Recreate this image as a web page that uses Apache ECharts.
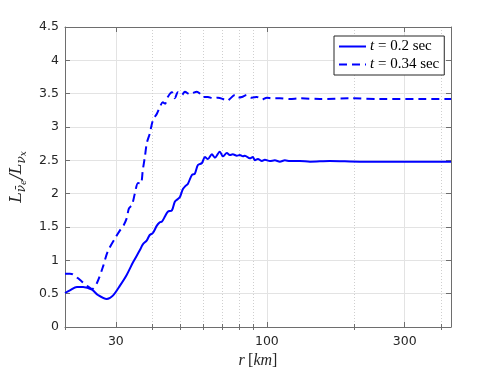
<!DOCTYPE html>
<html>
<head>
<meta charset="utf-8">
<script src="https://cdn.jsdelivr.net/npm/echarts@6/dist/echarts.min.js"></script>
<style>html,body{margin:0;padding:0;background:#fff}#c{width:498px;height:374px}</style>
</head>
<body>
<div id="c"></div>
<script>
// ---- data (r in km, ratio L_anti-nu_e / L_nu_x) ----
var seriesNames = ['t = 0.2 sec', 't = 0.34 sec'];
var rSolid = [20.0, 20.8, 22.0, 23.1, 24.8, 26.0, 27.9, 29.3, 31.0, 32.7, 34.4, 36.3, 37.2, 38.4, 39.3, 40.3, 41.6, 42.6, 43.3, 44.4, 45.4, 46.9, 48.0, 49.2, 50.0, 51.2, 52.4, 53.3, 55.0, 56.3, 57.7, 59.6, 61.0, 62.5, 64.5, 66.1, 68.7, 70.4, 72.7, 74.4, 76.2, 78.7, 80.6, 82.6, 83.9, 87.3, 89.4, 90.9, 93.1, 96.1, 98.4, 102.4, 106.6, 110.9, 115.4, 120.1, 130, 141, 165, 210, 289, 434];
var ySolid = [0.51, 0.55, 0.60, 0.60, 0.56, 0.48, 0.42, 0.47, 0.62, 0.78, 0.97, 1.15, 1.24, 1.30, 1.38, 1.41, 1.52, 1.57, 1.58, 1.66, 1.73, 1.75, 1.88, 1.92, 1.95, 2.07, 2.12, 2.15, 2.28, 2.30, 2.43, 2.46, 2.55, 2.52, 2.59, 2.54, 2.63, 2.56, 2.61, 2.58, 2.59, 2.57, 2.58, 2.56, 2.57, 2.53, 2.55, 2.50, 2.52, 2.49, 2.51, 2.49, 2.50, 2.48, 2.50, 2.49, 2.49, 2.48, 2.49, 2.48, 2.48, 2.48];
var rDashed = [20.0, 20.8, 21.3, 22.2, 22.9, 23.8, 24.8, 25.8, 27.05, 28.1, 29.8, 31.0, 31.7, 32.7, 33.3, 34.1, 34.9, 35.8, 36.6, 37.2, 37.8, 38.4, 39.3, 40.3, 41.6, 42.6, 43.6, 44.4, 45.4, 46.9, 48.0, 49.2, 50.8, 52.0, 54.1, 55.4, 57.2, 58.6, 60.0, 62.5, 65.0, 67.7, 70.4, 72.7, 74.4, 77.5, 79.3, 81.9, 85.3, 88.7, 92.3, 96.1, 100, 104.1, 110.9, 120.1, 130.1, 152.6, 193.8, 246.2, 338.6, 434];
var yDashed = [0.80, 0.80, 0.79, 0.73, 0.68, 0.62, 0.57, 0.66, 0.90, 1.13, 1.33, 1.45, 1.50, 1.63, 1.78, 1.83, 2.00, 2.16, 2.15, 2.36, 2.55, 2.76, 2.90, 3.10, 3.20, 3.30, 3.37, 3.35, 3.45, 3.52, 3.43, 3.52, 3.48, 3.53, 3.49, 3.51, 3.53, 3.50, 3.45, 3.45, 3.43, 3.44, 3.42, 3.39, 3.42, 3.48, 3.44, 3.45, 3.48, 3.44, 3.45, 3.41, 3.44, 3.43, 3.43, 3.42, 3.43, 3.42, 3.43, 3.42, 3.42, 3.42];
var xMajorTicks = [30, 100, 300];
var xMinorTicks = [20, 40, 50, 60, 70, 80, 90, 200, 400];
var yTickLabels = ['0', '0.5', '1', '1.5', '2', '2.5', '3', '3.5', '4', '4.5'];
var xRange = [20, 434];

var lg = Math.log10;
function toPts(r, y) { return r.map(function (v, i) { return [lg(v), y[i]]; }); }

var axisCol = '#262626';
var lineCol = '#6e6e6e';
var tickFont = 'DejaVu Sans, Liberation Sans, sans-serif';
var xMin = lg(xRange[0]), xMax = lg(xRange[1]);

function xAx(pos, major, opts) {
  var ticks = (major ? xMajorTicks : xMinorTicks).map(lg);
  return Object.assign({
    type: 'value', position: pos, min: xMin, max: xMax,
    axisLine: { show: false },
    axisTick: { show: true, inside: true, length: major ? 5 : 3, customValues: ticks, lineStyle: { color: lineCol, width: 1 } },
    axisLabel: { show: false },
    splitLine: { show: false }
  }, opts || {});
}

var chart = echarts.init(document.getElementById('c'), null, { renderer: 'canvas' });
chart.setOption({
  animation: false,
  backgroundColor: '#ffffff',
  grid: { left: 65, right: 47, top: 27, bottom: 47, containLabel: false },
  xAxis: [
    xAx('bottom', true, {
      axisLine: { show: true, onZero: false, lineStyle: { color: lineCol, width: 1 } },
      axisLabel: {
        show: true, customValues: xMajorTicks.map(lg), margin: 8,
        color: axisCol, fontSize: 12.5, fontFamily: tickFont,
        formatter: function (v) { return String(Math.round(Math.pow(10, v))); }
      },
      splitLine: { show: true, lineStyle: { color: '#e3e3e3', width: 1, type: 'solid' } },
      name: '{i|r} {n|[}{i|km}{n|]}', nameLocation: 'middle', nameGap: 26,
      nameTextStyle: {
        rich: {
          i: { fontFamily: 'Liberation Serif, serif', fontStyle: 'italic', fontSize: 16, color: axisCol },
          n: { fontFamily: 'Liberation Serif, serif', fontSize: 16, color: axisCol }
        }
      }
    }),
    xAx('bottom', false, {
      splitLine: { show: true, lineStyle: { color: '#cfcfcf', width: 1, type: [1, 2] } }
    }),
    xAx('top', true, { axisLine: { show: true, onZero: false, lineStyle: { color: lineCol, width: 1 } } }),
    xAx('top', false)
  ],
  yAxis: [
    {
      type: 'value', position: 'left', min: 0, max: 4.5, interval: 0.5,
      axisLine: { show: true, onZero: false, lineStyle: { color: lineCol, width: 1 } },
      axisTick: { show: true, inside: true, length: 5, lineStyle: { color: lineCol } },
      axisLabel: {
        color: axisCol, fontSize: 12.5, margin: 6, fontFamily: tickFont,
        formatter: function (v) { return yTickLabels[Math.round(v * 2)]; }
      },
      splitLine: { show: true, lineStyle: { color: '#e3e3e3', width: 1 } },
      name: '{L|L}{s|ν̄}{t|e}{L|/L}{s|ν}{t|x}', nameLocation: 'middle', nameGap: 31, nameRotate: 90,
      nameTextStyle: {
        rich: {
          L: { fontFamily: 'DejaVu Serif, serif', fontStyle: 'italic', fontSize: 16, color: axisCol, lineHeight: 22, verticalAlign: 'middle' },
          s: { fontFamily: 'DejaVu Serif, serif', fontStyle: 'italic', fontSize: 12, color: axisCol, verticalAlign: 'bottom', padding: [7, 0, 0, 0] },
          t: { fontFamily: 'DejaVu Serif, serif', fontStyle: 'italic', fontSize: 9, color: axisCol, verticalAlign: 'bottom', padding: [10, 0, 0, 0] }
        }
      }
    },
    {
      type: 'value', position: 'right', min: 0, max: 4.5, interval: 0.5,
      axisLine: { show: true, onZero: false, lineStyle: { color: lineCol, width: 1 } },
      axisTick: { show: true, inside: true, length: 5, lineStyle: { color: lineCol } },
      axisLabel: { show: false },
      splitLine: { show: false }
    }
  ],
  legend: {
    show: true, orient: 'vertical', left: 334, top: 36,
    backgroundColor: '#ffffff', borderColor: '#262626', borderWidth: 1,
    padding: [3, 5, 3, 4], itemGap: 3, itemWidth: 27, itemHeight: 14,
    itemStyle: { opacity: 0, color: 'rgba(0,0,0,0)', borderWidth: 0 },
    data: seriesNames,
    formatter: function (n) { return '{i|t}{r| = ' + n.slice(4, n.length - 4) + ' sec}'; },
    textStyle: {
      padding: [0, 0, 0, -1],
      rich: {
        i: { fontFamily: 'Liberation Serif, serif', fontStyle: 'italic', fontSize: 15, color: '#000' },
        r: { fontFamily: 'Liberation Serif, serif', fontSize: 15, color: '#000' }
      }
    }
  },
  series: [
    {
      name: seriesNames[0], type: 'line', xAxisIndex: 0, yAxisIndex: 0,
      data: toPts(rSolid, ySolid), showSymbol: false, symbol: 'none', smooth: 0.3,
      lineStyle: { color: '#0000ff', width: 2 }, itemStyle: { color: '#0000ff' }
    },
    {
      name: seriesNames[1], type: 'line', xAxisIndex: 0, yAxisIndex: 0,
      data: toPts(rDashed, yDashed), showSymbol: false, symbol: 'none', smooth: 0.3,
      lineStyle: { color: '#0000ff', width: 2, type: [8, 5] }, itemStyle: { color: '#0000ff' }
    }
  ]
});
</script>
</body>
</html>
